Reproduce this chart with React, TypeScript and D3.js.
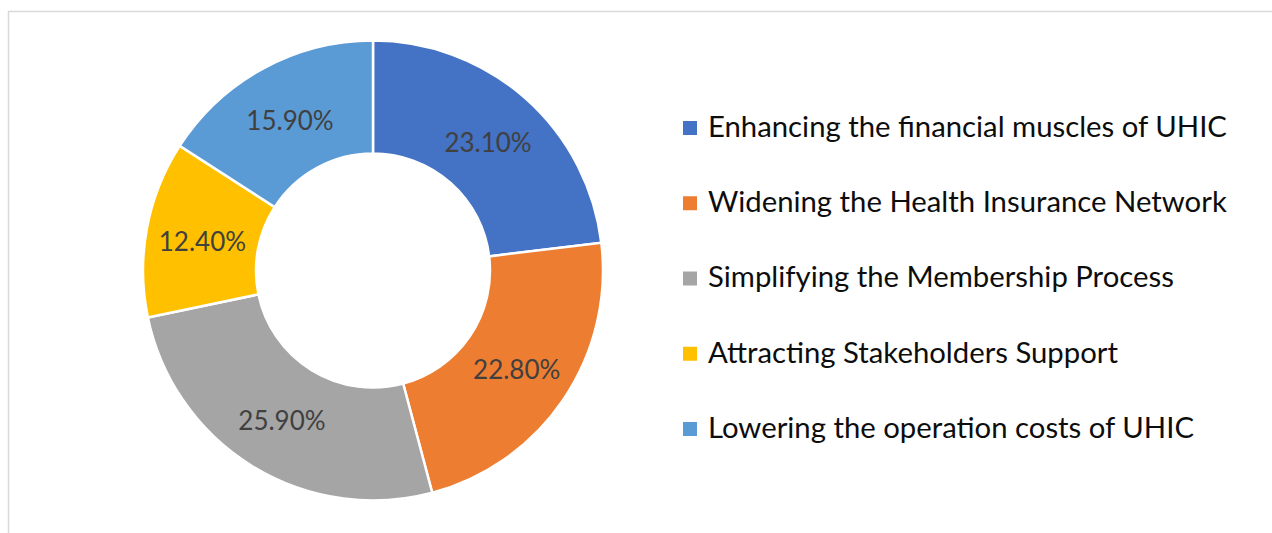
import { useEffect, useRef } from 'react';
import * as d3 from 'd3';

const categories = [
  'Enhancing the financial muscles of UHIC',
  'Widening the Health Insurance Network',
  'Simplifying the Membership Process',
  'Attracting Stakeholders Support',
  'Lowering the operation costs of UHIC',
];
const shares = [23.1, 22.8, 25.9, 12.4, 15.9];
const labels = ['23.10%', '22.80%', '25.90%', '12.40%', '15.90%'];
const colors = ['#4472C4', '#ED7D31', '#A5A5A5', '#FFC000', '#5B9BD5'];

type Slice = { name: string; value: number; label: string; color: string };

export default function App() {
  const svgRef = useRef<SVGSVGElement>(null);

  useEffect(() => {
    if (!svgRef.current) return;
    const width = 1272;
    const height = 533;
    const svg = d3.select(svgRef.current);
    svg.selectAll('*').remove();

    const rows: Slice[] = categories.map((name, i) => ({
      name,
      value: shares[i],
      label: labels[i],
      color: colors[i],
    }));

    // chart frame (only top and left visible in the picture)
    svg.append('rect')
      .attr('x', 8.5)
      .attr('y', 11.5)
      .attr('width', width + 20)
      .attr('height', height + 20)
      .attr('fill', '#fff')
      .attr('stroke', '#d9d9d9')
      .attr('stroke-width', 1.5);

    const cx = 373;
    const cy = 270.5;
    const outerR = 230;
    const innerR = 117;

    const pie = d3.pie<Slice>().value(d => d.value).sort(null);
    const arc = d3.arc<d3.PieArcDatum<Slice>>().innerRadius(innerR).outerRadius(outerR);
    const labelArc = d3.arc<d3.PieArcDatum<Slice>>()
      .innerRadius((innerR + outerR) / 2)
      .outerRadius((innerR + outerR) / 2);

    const g = svg.append('g').attr('transform', `translate(${cx},${cy})`);
    const arcs = pie(rows);

    g.selectAll('path')
      .data(arcs)
      .join('path')
      .attr('d', arc)
      .attr('fill', d => d.data.color)
      .attr('stroke', '#fff')
      .attr('stroke-width', 2.5);

    g.selectAll('text')
      .data(arcs)
      .join('text')
      .attr('transform', d => `translate(${labelArc.centroid(d)})`)
      .attr('text-anchor', 'middle')
      .attr('dy', '0.45em')
      .attr('font-family', 'Lato, "Open Sans", sans-serif')
      .attr('font-size', 26)
      .attr('fill', '#404040')
      .text(d => d.data.label);

    // legend
    const legendY = d3.scalePoint<string>()
      .domain(categories)
      .range([128, 429]);

    const legend = svg.append('g')
      .selectAll('g')
      .data(rows)
      .join('g')
      .attr('transform', d => `translate(683,${legendY(d.name)})`);

    legend.append('rect')
      .attr('x', 0)
      .attr('y', -7)
      .attr('width', 14)
      .attr('height', 14)
      .attr('fill', d => d.color);

    legend.append('text')
      .attr('x', 25)
      .attr('dy', '0.3em')
      .attr('font-family', 'Lato, "Open Sans", sans-serif')
      .attr('font-size', 29.3)
      .attr('fill', '#0d0d0d')
      .text(d => d.name);
  }, []);

  return (
    <svg
      ref={svgRef}
      width={1272}
      height={533}
      style={{ position: 'absolute', left: 0, top: 0, background: '#fff' }}
    />
  );
}
